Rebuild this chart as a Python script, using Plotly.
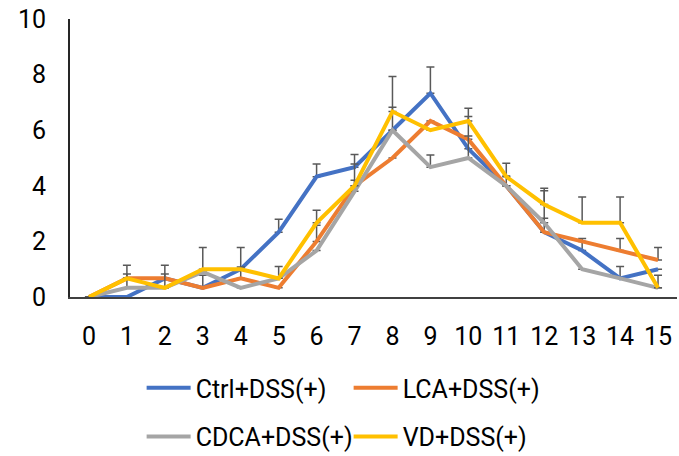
import plotly.graph_objects as go

days = [str(i) for i in range(16)]
names = ["Ctrl+DSS(+)", "LCA+DSS(+)", "CDCA+DSS(+)", "VD+DSS(+)"]
colors = ["#4472C4", "#ED7D31", "#A5A5A5", "#FFC000"]

ctrl = [0, 0, 0.67, 0.33, 1.0, 2.33, 4.33, 4.67, 6.0, 7.33, 5.33, 4.0, 2.33, 1.67, 0.67, 1.0]
lca = [0, 0.67, 0.67, 0.33, 0.67, 0.33, 2.0, 4.0, 5.0, 6.33, 5.67, 4.0, 2.33, 2.0, 1.67, 1.33]
cdca = [0, 0.33, 0.33, 0.9, 0.33, 0.67, 1.67, 3.8, 6.0, 4.67, 5.0, 4.0, 2.67, 1.0, 0.67, 0.33]
vd = [0, 0.67, 0.33, 1.0, 1.0, 0.67, 2.67, 4.0, 6.67, 6.0, 6.33, 4.33, 3.33, 2.67, 2.67, 0.33]

ctrl_err = [0, 0, 0.47, 0.45, 0.78, 0.47, 0.45, 0.46, 0.83, 0.94, 0, 0.35, 0.5, 0.43, 0.43, 0]
lca_err = [0, 0.47, 0, 0, 0.41, 0, 0.58, 0.2, 0, 0, 0.82, 0, 0, 0, 0.43, 0.45]
cdca_err = [0, 0.5, 0.5, 0, 0, 0.43, 0, 0, 0, 0.44, 0.79, 0, 1.15, 0, 0, 0.45]
vd_err = [0, 0, 0, 0.78, 0, 0, 0.45, 0.78, 1.26, 0, 0.46, 0.48, 0.58, 0.93, 0.93, 0]

series = [ctrl, lca, cdca, vd]
errs = [ctrl_err, lca_err, cdca_err, vd_err]
legends = ["legend", "legend", "legend2", "legend2"]

fig = go.Figure()
for n, c, s, e, lg in zip(names, colors, series, errs, legends):
    fig.add_trace(go.Scatter(
        x=days, y=s, name=n, mode="lines",
        line=dict(color=c, width=4),
        error_y=dict(type="data", array=e, symmetric=False, arrayminus=[0]*len(e),
                     color="#595959", thickness=1.5, width=4),
        legend=lg,
    ))

font = dict(family="Roboto, sans-serif", size=25, color="#000000")
legend_common = dict(orientation="h", xanchor="left", yanchor="middle",
                     yref="container",
                     font=font, entrywidth=148, entrywidthmode="pixels",
                     bgcolor="rgba(0,0,0,0)", tracegroupgap=0,
                     itemwidth=44)

fig.update_layout(
    width=679, height=456,
    margin=dict(l=70, r=2, t=19, b=159),
    paper_bgcolor="white", plot_bgcolor="white",
    font=font,
    showlegend=True,
    legend=dict(x=0.118, y=0.149, **legend_common),
    legend2=dict(x=0.118, y=0.042, **legend_common),
    xaxis=dict(type="category", range=[-0.5, 15.5], showgrid=False, showline=True,
               linecolor="#404040", linewidth=2, ticks="",
               ticklabelstandoff=16, tickfont=font, zeroline=False),
    yaxis=dict(range=[0, 10], dtick=2, showgrid=False, showline=True,
               linecolor="#262626", linewidth=2, ticks="",
               ticklabelstandoff=17, tickfont=font, zeroline=False),
)

fig.write_html("out.html")
